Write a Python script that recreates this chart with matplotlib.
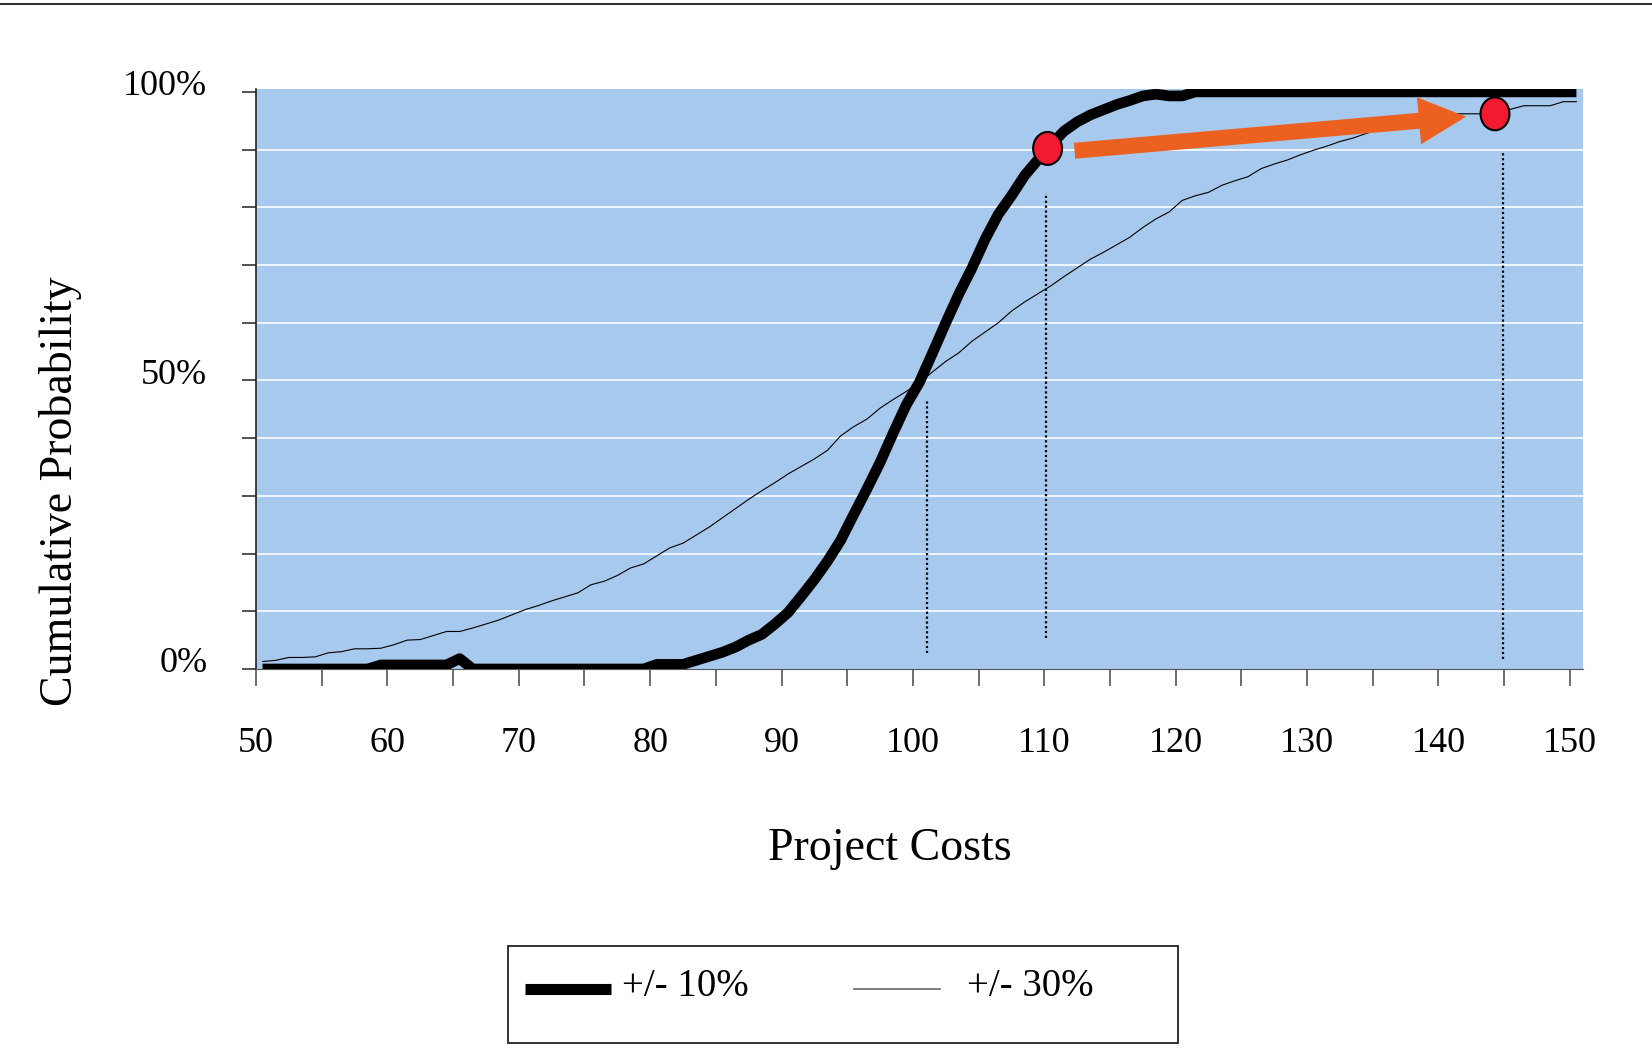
import numpy as np
import matplotlib
matplotlib.use("Agg")
import matplotlib.pyplot as plt
from matplotlib.lines import Line2D
from matplotlib.patches import Ellipse, Rectangle
from matplotlib.transforms import ScaledTranslation

plt.rcParams['font.family'] = ['Liberation Serif', 'DejaVu Serif']

# project cost axis (bin centres)
costs = np.arange(50.5, 151, 1.0)

# cumulative probability in %
tight_10 = [0, 0, 0, 0, 0, 0, 0, 0, 0,
            0.7, 0.7, 0.7, 0.7, 0.7, 0.7, 1.8,
            0, 0, 0, 0, 0, 0, 0, 0, 0, 0, 0, 0, 0, 0,
            0.8, 0.8, 0.8,
            1.5, 2.2, 2.9, 3.8, 5.0, 6.0, 7.8, 9.8, 12.6, 15.5,
            18.7, 22.3, 26.8, 31.2, 35.8, 40.9, 45.8, 49.7, 54.8, 60.0,
            65.0, 69.5, 74.5, 78.8, 82.0, 85.5, 88.2, 90.8, 93.2, 94.8,
            96.0, 96.9, 97.8, 98.5, 99.3, 99.6, 99.3, 99.3, 100,
            100, 100, 100, 100, 100, 100, 100, 100, 100, 100,
            100, 100, 100, 100, 100, 100, 100, 100, 100, 100,
            100, 100, 100, 100, 100, 100, 100, 100, 100]

wide_30 = [1.3, 1.5, 2.0, 2.0, 2.1, 2.8, 3.0, 3.5, 3.5, 3.6,
           4.2, 5.0, 5.1, 5.8, 6.5, 6.5, 7.1, 7.8, 8.5, 9.4,
           10.3, 11.0, 11.8, 12.5, 13.2, 14.6, 15.2, 16.2, 17.5, 18.2,
           19.6, 21.0, 21.8, 23.2, 24.6, 26.2, 27.8, 29.4, 30.9, 32.3,
           33.8, 35.1, 36.4, 37.9, 40.4, 42.0, 43.3, 45.2, 46.7, 48.1,
           49.6, 51.5, 53.3, 54.8, 56.8, 58.4, 60.0, 62.0, 63.6, 65.0,
           66.4, 68.0, 69.5, 71.0, 72.2, 73.5, 74.8, 76.5, 78.0, 79.2,
           81.2, 82.0, 82.6, 83.8, 84.6, 85.3, 86.7, 87.5, 88.2, 89.1,
           89.9, 90.6, 91.4, 92.0, 92.8, 93.5, 94.1, 94.6, 95.1, 95.5,
           95.8, 96.2, 96.2, 96.2, 96.6, 97.0, 97.6, 97.6, 97.6, 98.3,
           98.3]

series_labels = ['+/- 10%', '+/- 30%']
x_ticks = [50, 60, 70, 80, 90, 100, 110, 120, 130, 140, 150]
y_ticks = [0, 10, 20, 30, 40, 50, 60, 70, 80, 90, 100]
y_ticklabels = ['0%', '', '', '', '', '50%', '', '', '', '', '100%']

# annotations: dotted drop lines, red points, arrow
drop_x = [101.1, 110.1, 144.9]
drop_lo = [2.8, 5.3, 1.8]
drop_hi = [46.8, 82.5, 89.8]
point_x = [110.25, 144.3]
point_y = [90.2, 96.2]
arrow_from = (112.3, 89.8)
arrow_to = (142.1, 95.7)

W, H = 1652, 1060
fig = plt.figure(figsize=(W / 100, H / 100), dpi=100)
ax = fig.add_axes([256 / W, 1 - 669 / H, 1327 / W, 580 / H])
ax.set_facecolor('#A7C9EE')
ax.set_xlim(50, 151)
ax.set_ylim(0, 100.5)

for v in y_ticks[1:-1]:
    ax.axhline(v, color='white', lw=1.3, alpha=0.9, zorder=1)

ax.vlines(drop_x, drop_lo, drop_hi, colors='black', lw=1.6,
          linestyles=(0, (1, 1.2)), zorder=2)

ax.plot(costs, wide_30, color='black', lw=0.8, zorder=3)
ax.plot(costs, tight_10, color='black', lw=7.7, solid_capstyle='butt', zorder=4)

ax.annotate('', xy=arrow_to, xytext=arrow_from,
            arrowprops=dict(arrowstyle='simple,head_length=3.4,head_width=3.4,tail_width=1.15',
                            mutation_scale=10, color='#EC6120', lw=0,
                            shrinkA=0, shrinkB=0), zorder=5)

for px, py in zip(point_x, point_y):
    ax.add_patch(Ellipse((px, py), 2.2, 5.7, facecolor='#F21A30',
                         edgecolor='black', lw=1.5, zorder=6))

# axes styling
for s in ['top', 'right']:
    ax.spines[s].set_visible(False)
ax.spines['left'].set_color('#222222')
ax.spines['left'].set_linewidth(1.2)
ax.spines['bottom'].set_color('#555555')
ax.spines['bottom'].set_linewidth(0.8)

ax.set_xticks(x_ticks)
ax.set_xticks(np.arange(55, 151, 10), minor=True)
ax.tick_params(axis='x', which='both', direction='out', length=12, width=1.2,
               color='#555555', labelsize=26, pad=30)
ax.set_yticks(y_ticks)
ax.set_yticklabels(y_ticklabels)
ax.tick_params(axis='y', direction='out', length=10, width=1.2,
               color='#333333', labelsize=26, pad=25)
for lab in ax.get_yticklabels():
    lab.set_transform(lab.get_transform() + ScaledTranslation(0, 0.09, fig.dpi_scale_trans))

ax.set_xlabel('Project Costs', fontsize=33, va='center')
ax.xaxis.set_label_coords(0.478, -0.31)
ax.set_ylabel('Cumulative Probability', fontsize=33, va='center')
ax.yaxis.set_label_coords(-0.1477, 0.306)

# legend
handles = [Line2D([], [], color='black', lw=8, solid_capstyle='butt'),
           Line2D([], [], color='#666666', lw=1.2)]
leg = fig.legend(handles, series_labels, ncol=2, frameon=False, fontsize=28,
                 loc='center left', bbox_to_anchor=(525 / W, 1 - 993 / H),
                 borderpad=0, borderaxespad=0, handlelength=2.2,
                 handletextpad=0.3, columnspacing=2.7)
leg_texts = leg.get_texts()
leg_texts[0].set_y(6)
leg_texts[1].set_y(6)
leg_texts[1].set_x(16)
fig.add_artist(Rectangle((508 / W, 1 - 1043 / H), 670 / W, 97 / H,
                         transform=fig.transFigure, fill=False,
                         edgecolor='#222222', lw=1.3))

fig.add_artist(Line2D([0, 1], [1 - 4 / H, 1 - 4 / H], transform=fig.transFigure,
                      color='#333333', lw=1.5))

fig.savefig('out.png', dpi=100)
